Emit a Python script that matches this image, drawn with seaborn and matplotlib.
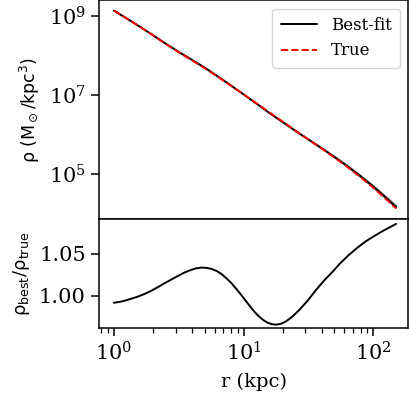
import numpy as np
import pandas as pd
import matplotlib
matplotlib.use("Agg")
import matplotlib.pyplot as plt
import seaborn as sns
from matplotlib.ticker import LogLocator, NullLocator, NullFormatter, FixedLocator, FormatStrFormatter

# ---- data ----
r_prof = [1.0, 1.26, 1.58, 2.0, 2.51, 3.16, 3.98, 5.01, 6.31, 7.94, 10, 12.6, 15.8, 20.0,
          25.1, 31.6, 39.8, 50.1, 63.1, 79.4, 100, 126, 150]
log_rho_true = [9.126, 8.924, 8.720, 8.500, 8.280, 8.070, 7.870, 7.669, 7.451, 7.230, 7.006,
                6.779, 6.549, 6.319, 6.091, 5.865, 5.639, 5.409, 5.169, 4.914, 4.642, 4.352, 4.120]
log_rho_best = [9.122, 8.921, 8.720, 8.503, 8.287, 8.080, 7.883, 7.683, 7.463, 7.237, 7.005,
                6.769, 6.534, 6.304, 6.081, 5.863, 5.645, 5.422, 5.189, 4.939, 4.672, 4.385, 4.156]
log_band_lo = [9.112, 8.911, 8.710, 8.490, 8.270, 8.060, 7.860, 7.659, 7.441, 7.220, 6.995,
               6.759, 6.524, 6.294, 6.071, 5.853, 5.624, 5.394, 5.154, 4.899, 4.627, 4.337, 4.105]
log_band_hi = [9.132, 8.931, 8.730, 8.513, 8.297, 8.090, 7.893, 7.693, 7.475, 7.252, 7.023,
               6.791, 6.560, 6.334, 6.115, 5.901, 5.687, 5.468, 5.239, 4.993, 4.726, 4.443, 4.222]

r_ratio = [1.0, 1.1, 1.215, 1.35, 1.54, 1.75, 1.95, 2.2, 2.47, 2.8, 3.12, 3.45, 3.84, 4.25,
           4.73, 5.2, 5.65, 6.2, 6.74, 7.35, 8.05, 8.8, 9.6, 10.5, 11.5, 12.5, 13.5, 14.5,
           15.5, 16.6, 17.8, 19.3, 21.3, 24, 27, 31, 36.3, 42, 48.7, 56, 65.2, 76, 88, 102,
           118, 135, 150]
ratio = [0.9915, 0.9925, 0.9940, 0.9962, 0.9990, 1.0025, 1.0060, 1.0105, 1.0150, 1.0197,
         1.0236, 1.0272, 1.0302, 1.0325, 1.0336, 1.0332, 1.0320, 1.0295, 1.0260, 1.0210,
         1.0150, 1.0080, 1.0008, 0.9930, 0.9850, 0.9785, 0.9735, 0.9698, 0.9673, 0.9658,
         0.9653, 0.9662, 0.9693, 0.9755, 0.9832, 0.9935, 1.0070, 1.0185, 1.0288, 1.0392,
         1.0490, 1.0578, 1.0652, 1.0714, 1.0772, 1.0820, 1.0858]

sns.set_style("ticks")
plt.rcParams['font.family'] = ['DejaVu Serif']
plt.rcParams['mathtext.fontset'] = 'dejavusans'
for k in ['axes.edgecolor', 'xtick.color', 'ytick.color', 'text.color', 'axes.labelcolor']:
    plt.rcParams[k] = 'black'

prof = pd.DataFrame({"r": r_prof,
                     "best": np.power(10.0, log_rho_best),
                     "true": np.power(10.0, log_rho_true)})
rat = pd.DataFrame({"r": r_ratio, "ratio": ratio})

fig = plt.figure(figsize=(4.09, 4.04), dpi=100)
ax1 = fig.add_axes([0.242, 0.4567, 0.756, 0.5421])
ax2 = fig.add_axes([0.242, 0.1881, 0.756, 0.2686], sharex=ax1)

ax1.fill_between(r_prof, np.power(10.0, log_band_lo), np.power(10.0, log_band_hi),
                 color='0.55', lw=0)
sns.lineplot(data=prof, x="r", y="best", ax=ax1, color='black', lw=1.4, label='Best-fit')
sns.lineplot(data=prof, x="r", y="true", ax=ax1, color='red', lw=1.4, ls='--', label='True')
ax1.set_xscale('log')
ax1.set_yscale('log')
ax1.set_ylim(10**3.84, 10**9.38)
ax1.yaxis.set_major_locator(FixedLocator([1e5, 1e7, 1e9]))
ax1.yaxis.set_minor_locator(NullLocator())
ax1.set_ylabel(r'$\rm \rho\ (M_\odot/kpc^3)$', fontsize=12.5, labelpad=5)
ax1.set_xlabel('')
ax1.tick_params(axis='x', which='both', bottom=False, labelbottom=False)
ax1.tick_params(axis='y', labelsize=15, length=6, width=1.1)
leg = ax1.legend(loc='upper right', fontsize=12, frameon=True, fancybox=True,
                 handlelength=2.2, borderpad=0.5)
leg.get_frame().set_edgecolor('0.8')

sns.lineplot(data=rat, x="r", y="ratio", ax=ax2, color='black', lw=1.4)
ax2.set_xlim(0.767, 186)
ax2.set_ylim(0.9613, 1.0911)
ax2.yaxis.set_major_locator(FixedLocator([1.00, 1.05]))
ax2.yaxis.set_major_formatter(FormatStrFormatter('%.2f'))
ax2.set_ylabel(r'$\rm \rho_{best}/\rho_{true}$', fontsize=13, labelpad=5)
ax2.set_xlabel('r (kpc)', fontsize=14, labelpad=6)
ax2.xaxis.set_major_locator(LogLocator(base=10))
ax2.xaxis.set_minor_locator(LogLocator(base=10, subs=np.arange(2, 10)))
ax2.xaxis.set_minor_formatter(NullFormatter())
ax2.tick_params(axis='both', which='major', labelsize=15, length=6, width=1.1)
ax2.tick_params(axis='x', which='minor', length=3.5, width=0.9)

for ax in (ax1, ax2):
    for s in ax.spines.values():
        s.set_linewidth(1.1)

fig.savefig('out.png', dpi=100)
